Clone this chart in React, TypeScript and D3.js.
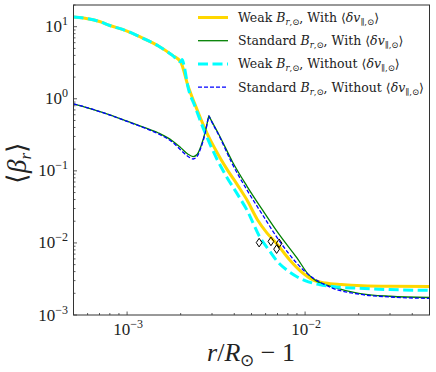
import * as d3 from "d3";

// series values: [r/Rsun - 1, <beta_r>]
const weakWith: [number, number][] = [
  [5e-4, 13.6], [6e-4, 12.9], [7e-4, 11.8], [8e-4, 10.4], [1e-3, 8.7],
  [1.2e-3, 7.1], [1.5e-3, 5.4], [1.8e-3, 4.0], [2e-3, 3.25],
  [2.2e-3, 1.5], [2.4e-3, 0.85], [2.6e-3, 0.52], [2.85e-3, 0.31],
  [3.2e-3, 0.18], [3.6e-3, 0.11], [4.2e-3, 0.062], [4.7e-3, 0.04],
  [5.4e-3, 0.021], [6.1e-3, 0.0138], [6.9e-3, 0.0099], [8.2e-3, 0.0058],
  [9.5e-3, 0.004], [1.1e-2, 0.0031], [1.3e-2, 0.00278], [1.6e-2, 0.00265],
  [2.1e-2, 0.00255], [3e-2, 0.0025], [5e-2, 0.00248],
];

const standardWith: [number, number][] = [
  [5e-4, 0.85], [6e-4, 0.75], [8e-4, 0.6], [1e-3, 0.49], [1.2e-3, 0.415],
  [1.5e-3, 0.335], [1.8e-3, 0.26], [2e-3, 0.21], [2.2e-3, 0.17],
  [2.35e-3, 0.158], [2.48e-3, 0.17], [2.6e-3, 0.22], [2.75e-3, 0.35],
  [2.85e-3, 0.52], [2.88e-3, 0.58], [2.93e-3, 0.535], [3.3e-3, 0.31],
  [3.9e-3, 0.135], [4.7e-3, 0.062], [5.8e-3, 0.028], [7.2e-3, 0.0128],
  [9e-3, 0.0062], [1.05e-2, 0.0036], [1.15e-2, 0.003], [1.4e-2, 0.0025],
  [2e-2, 0.002], [3e-2, 0.00182], [5e-2, 0.00175],
];

const weakWithout: [number, number][] = [
  [5e-4, 13.6], [6e-4, 12.9], [7e-4, 11.8], [8e-4, 10.4], [1e-3, 8.7],
  [1.2e-3, 7.1], [1.5e-3, 5.4], [1.8e-3, 4.0], [2e-3, 3.25],
  [2.04e-3, 3.5], [2.1e-3, 2.7], [2.2e-3, 1.45], [2.4e-3, 0.8],
  [2.6e-3, 0.47], [2.85e-3, 0.27], [3.2e-3, 0.145], [3.6e-3, 0.085],
  [4.2e-3, 0.046], [4.7e-3, 0.029], [5.6e-3, 0.0118], [6.3e-3, 0.0078],
  [7e-3, 0.0055], [8e-3, 0.0041], [9e-3, 0.0034], [1e-2, 0.003],
  [1.2e-2, 0.00265], [1.5e-2, 0.00245], [2e-2, 0.00235], [3e-2, 0.00225],
  [5e-2, 0.0022],
];

const standardWithout: [number, number][] = [
  [5e-4, 0.85], [6e-4, 0.75], [8e-4, 0.595], [1e-3, 0.485], [1.2e-3, 0.41],
  [1.5e-3, 0.325], [1.8e-3, 0.25], [2e-3, 0.195], [2.2e-3, 0.158],
  [2.35e-3, 0.146], [2.48e-3, 0.16], [2.6e-3, 0.21], [2.75e-3, 0.34],
  [2.85e-3, 0.52], [2.88e-3, 0.58], [2.93e-3, 0.53], [3.3e-3, 0.3],
  [3.9e-3, 0.125], [4.7e-3, 0.055], [5.8e-3, 0.024], [7.2e-3, 0.0105],
  [9e-3, 0.0052], [1.05e-2, 0.0036], [1.2e-2, 0.0029], [1.4e-2, 0.0024],
  [2e-2, 0.00195], [3e-2, 0.00178], [5e-2, 0.0017],
];

const markerX = [5.52e-3, 6.43e-3, 6.92e-3, 7.15e-3];
const markerY = [0.0101, 0.0105, 0.0082, 0.0099];

const xMajor = [1e-3, 1e-2];
const xMajorExp = ["−3", "−2"];
const yMajor = [1e-3, 1e-2, 1e-1, 1, 10];
const yMajorExp = ["−3", "−2", "−1", "0", "1"];

const legendPrefix = ["Weak ", "Standard ", "Weak ", "Standard "];
const legendMid = ["With", "With", "Without", "Without"];

const W = 436;
const H = 372;
const left = 73.5;
const right = 429.5;
const top = 5;
const bottom = 315;
const font = "'Liberation Serif', serif";
const legendFont = "'DejaVu Serif', serif";

const styles = [
  { color: "#FFD700", width: 3, dash: "" },
  { color: "#008000", width: 1.3, dash: "" },
  { color: "#00FFFF", width: 3, dash: "10,4.5" },
  { color: "#0000FF", width: 1.3, dash: "4,2" },
];

function minorTicks(lo: number, hi: number) {
  const out: number[] = [];
  for (let e = -5; e <= 2; e++) {
    for (let m = 2; m <= 9; m++) {
      const v = m * Math.pow(10, e);
      if (v >= lo * 0.999 && v <= hi * 1.001) out.push(v);
    }
  }
  return out;
}

export default function App() {
  const x = d3.scaleLog().domain([5e-4, 5e-2]).range([left, right]);
  const y = d3.scaleLog().domain([1e-3, 20]).range([bottom, top]);
  const line = d3
    .line<[number, number]>()
    .x((d) => x(d[0]))
    .y((d) => y(d[1]))
    .curve(d3.curveMonotoneX);

  const series = [weakWith, standardWith, weakWithout, standardWithout];

  return (
    <svg
      width={W}
      height={H}
      style={{ position: "absolute", left: 0, top: 0, background: "#fff" }}
      fontFamily={font}
    >
      <defs>
        <clipPath id="plot">
          <rect x={left} y={top} width={right - left} height={bottom - top} />
        </clipPath>
      </defs>

      <g clipPath="url(#plot)">
        {series.map((s, i) => (
          <path
            key={i}
            d={line(s) ?? ""}
            fill="none"
            stroke={styles[i].color}
            strokeWidth={styles[i].width}
            strokeDasharray={styles[i].dash}
          />
        ))}
        {markerX.map((mx, i) => {
          const cx = x(mx);
          const cy = y(markerY[i]);
          return (
            <path
              key={i}
              d={`M${cx},${cy - 4.3}L${cx + 2.9},${cy}L${cx},${cy + 4.3}L${cx - 2.9},${cy}Z`}
              fill="none"
              stroke="#000"
              strokeWidth={1}
            />
          );
        })}
      </g>

      {/* ticks, pointing inward */}
      <g stroke="#333" strokeWidth={0.8}>
        {xMajor.map((t) => (
          <line key={t} x1={x(t)} x2={x(t)} y1={bottom} y2={bottom - 3.5} />
        ))}
        {minorTicks(5e-4, 5e-2).map((t) => (
          <line key={t} x1={x(t)} x2={x(t)} y1={bottom} y2={bottom - 2} />
        ))}
        {yMajor.map((t) => (
          <line key={t} x1={left} x2={left + 3.5} y1={y(t)} y2={y(t)} />
        ))}
        {minorTicks(1e-3, 20).map((t) => (
          <line key={t} x1={left} x2={left + 2} y1={y(t)} y2={y(t)} />
        ))}
      </g>

      <rect
        x={left}
        y={top}
        width={right - left}
        height={bottom - top}
        fill="none"
        stroke="#333"
        strokeWidth={1}
      />

      {xMajor.map((t, i) => (
        <text key={t} x={x(t) + 1} y={335} fontSize={17} textAnchor="middle" fill="#222">
          10
          <tspan fontSize={12} dy={-7}>
            {xMajorExp[i]}
          </tspan>
        </text>
      ))}
      {yMajor.map((t, i) => (
        <text key={t} x={68} y={y(t) + 5.5} fontSize={17} textAnchor="end" fill="#222">
          10
          <tspan fontSize={12} dy={-7}>
            {yMajorExp[i]}
          </tspan>
        </text>
      ))}

      <text x={251} y={361} fontSize={26} textAnchor="middle" fill="#222">
        <tspan fontStyle="italic">r</tspan>/<tspan fontStyle="italic">R</tspan>
        <tspan fontSize={17} dy={5}>⊙</tspan>
        <tspan dy={-5}> − 1</tspan>
      </text>

      <text
        transform={`translate(26,${(top + bottom) / 2 + 3}) rotate(-90)`}
        fontSize={27}
        textAnchor="middle"
        fill="#222"
      >
        ⟨<tspan fontStyle="italic">β</tspan>
        <tspan fontSize={17} fontStyle="italic" dy={5}>r</tspan>
        <tspan dy={-5}>⟩</tspan>
      </text>

      {legendPrefix.map((p, i) => {
        const ly = 17.5 + i * 23.2;
        return (
          <g key={i}>
            <line
              x1={198}
              x2={228}
              y1={ly}
              y2={ly}
              stroke={styles[i].color}
              strokeWidth={styles[i].width}
              strokeDasharray={styles[i].dash}
            />
            <text x={238} y={ly + 4.5} fontSize={12.5} fill="#222" fontFamily={legendFont}>
              {p}
              <tspan fontStyle="italic">B</tspan>
              <tspan fontSize={8.5} dy={3}>
                <tspan fontStyle="italic">r</tspan>,⊙
              </tspan>
              <tspan dy={-3}>, {legendMid[i]} ⟨</tspan>
              <tspan fontStyle="italic">δv</tspan>
              <tspan fontSize={8.5} dy={3}>∥,⊙</tspan>
              <tspan dy={-3}>⟩</tspan>
            </text>
          </g>
        );
      })}
    </svg>
  );
}
